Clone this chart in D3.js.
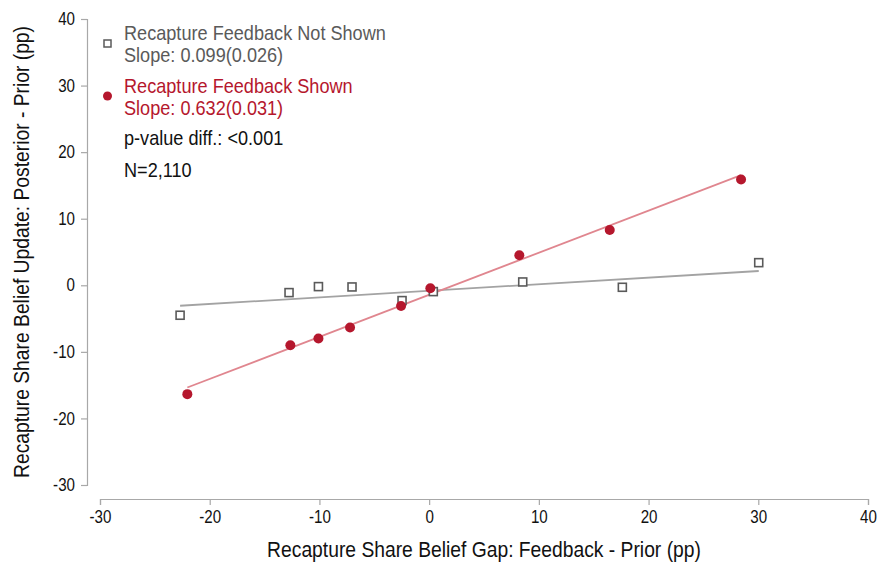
<!DOCTYPE html>
<html>
<head>
<meta charset="utf-8">
<script src="https://cdn.jsdelivr.net/npm/d3@7"></script>
<style>
  body { margin: 0; background: #fff; }
  svg text { font-family: "Liberation Sans Narrow", "Arial Narrow", "Liberation Sans", Arial, sans-serif; }
</style>
</head>
<body>
<svg id="chart" width="879" height="563"></svg>
<script>
// Binned scatter: belief gap (x) vs. belief update (y)
const gapNotShown    = [-22.7, -12.77, -10.09, -7.03, -2.47, 0.38, 8.53, 17.61, 30.04];
const updateNotShown = [-4.5, -1.1, -0.2, -0.25, -2.3, -0.95, 0.5, -0.3, 3.4];
const gapShown       = [-22.04, -12.65, -10.09, -7.21, -2.56, 0.11, 8.22, 16.46, 28.43];
const updateShown    = [-16.35, -9.0, -8.0, -6.35, -3.1, -0.45, 4.5, 8.3, 15.9];

// Fitted lines: slope and intercept
const fitNotShown = { slope: 0.099, intercept: -0.83 };
const fitShown    = { slope: 0.632, intercept: -1.43 };

const xTicks = [-30, -20, -10, 0, 10, 20, 30, 40];
const yTicks = [-30, -20, -10, 0, 10, 20, 30, 40];

const legendLines = [
  ["Recapture Feedback Not Shown", "Slope: 0.099(0.026)"],
  ["Recapture Feedback Shown", "Slope: 0.632(0.031)"]
];
const noteLines = ["p-value diff.: <0.001", "N=2,110"];

const xTitle = "Recapture Share Belief Gap: Feedback - Prior (pp)";
const yTitle = "Recapture Share Belief Update: Posterior - Prior (pp)";

const grey = "#5a5a5a", red = "#b5172d", greyLine = "#a3a3a3", redLine = "#e0868f", axisCol = "#a8a8a8";
const squeeze = 0.865;   // condensed lettering
const legSqueeze = 0.93;

const svg = d3.select("#chart");
const x = d3.scaleLinear().domain([-30, 40]).range([100, 868]);
const y = d3.scaleLinear().domain([-30, 40]).range([485, 19]);

function label(parent, px, py, str, size, fill, anchor, rotate, k) {
  return parent.append("text")
    .attr("transform", `translate(${px},${py})` + (rotate ? ` rotate(${rotate})` : "") + ` scale(${k || squeeze},1)`)
    .attr("text-anchor", anchor || "start")
    .attr("fill", fill).style("font-size", size + "px").text(str);
}

// x axis
const xa = svg.append("g").attr("transform", "translate(0,499)")
  .call(d3.axisBottom(x).tickValues(xTicks).tickSize(6).tickPadding(6).tickFormat(d3.format("d")));
// y axis
const ya = svg.append("g").attr("transform", "translate(87,0)")
  .call(d3.axisLeft(y).tickValues(yTicks).tickSize(6).tickPadding(6).tickFormat(d3.format("d")));
[xa, ya].forEach(g => {
  g.select(".domain").attr("stroke", axisCol).attr("stroke-width", 1.2);
  g.selectAll(".tick line").attr("stroke", axisCol).attr("stroke-width", 1.2);
  g.selectAll(".tick text").attr("fill", "#111").style("font-size", "17.5px")
    .text(d => d < 0 ? "-" + Math.abs(d) : d);
});
xa.selectAll(".tick text").attr("transform", `scale(${squeeze},1)`);
ya.selectAll(".tick text").each(function () {
  const t = d3.select(this);
  t.attr("x", +t.attr("x") / squeeze).attr("transform", `scale(${squeeze},1)`);
});

// axis titles
label(svg, 484, 557, xTitle, 22.3, "#111", "middle");
label(svg, 29, 252, yTitle, 22.3, "#111", "middle", -90);

// fit lines
function fitLine(xs, fit, col) {
  const ext = d3.extent(xs);
  svg.append("line")
    .attr("x1", x(ext[0])).attr("y1", y(fit.intercept + fit.slope * ext[0]))
    .attr("x2", x(ext[1])).attr("y2", y(fit.intercept + fit.slope * ext[1]))
    .attr("stroke", col).attr("stroke-width", 1.8);
}
fitLine(gapNotShown, fitNotShown, greyLine);
fitLine(gapShown, fitShown, redLine);

// points
const sq = 8;
svg.append("g").selectAll("rect").data(d3.zip(gapNotShown, updateNotShown)).join("rect")
  .attr("x", d => x(d[0]) - sq / 2).attr("y", d => y(d[1]) - sq / 2)
  .attr("width", sq).attr("height", sq)
  .attr("fill", "#fff").attr("stroke", grey).attr("stroke-width", 1.6);
svg.append("g").selectAll("circle").data(d3.zip(gapShown, updateShown)).join("circle")
  .attr("cx", d => x(d[0])).attr("cy", d => y(d[1])).attr("r", 5)
  .attr("fill", red);

// legend
const lg = svg.append("g");
lg.append("rect").attr("x", 104).attr("y", 40).attr("width", 7).attr("height", 7)
  .attr("fill", "#fff").attr("stroke", grey).attr("stroke-width", 1.5);
lg.append("circle").attr("cx", 107.5).attr("cy", 96).attr("r", 4.5).attr("fill", red);
const legSize = 19.5, legGap = 22.5;
[[grey, 39.5], [red, 92.5]].forEach(([c, top], i) => {
  legendLines[i].forEach((t, j) => label(lg, 124, top + j * legGap, t, legSize, c, "start", 0, legSqueeze));
});
noteLines.forEach((t, i) => label(lg, 124, 145 + i * 32, t, legSize, "#111", "start", 0, legSqueeze));
</script>
</body>
</html>
